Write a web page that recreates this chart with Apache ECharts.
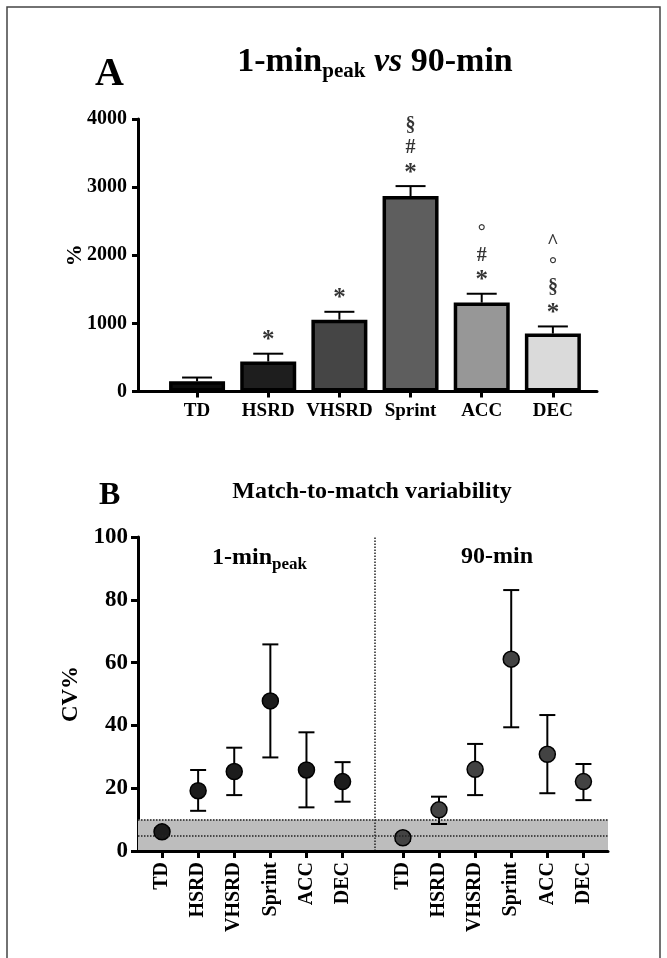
<!DOCTYPE html>
<html>
<head>
<meta charset="utf-8">
<script src="https://cdn.jsdelivr.net/npm/echarts@6.0.0/dist/echarts.min.js"></script>
<style>
  html, body { margin: 0; padding: 0; background: #fff; }
  #chart { width: 667px; height: 958px; }
</style>
</head>
<body>
<div id="chart"></div>
<script>
// panel A: 1-min peak as % of 90-min
const categories = ['TD', 'HSRD', 'VHSRD', 'Sprint', 'ACC', 'DEC'];
const ratioMean = [150, 440, 1055, 2870, 1305, 850];
const ratioErr = [55, 115, 115, 145, 130, 105];
const ratioMarks = [[], ['*'], ['*'], ['*', '#', '§'], ['*', '#', '°'], ['*', '§', '°', '^']]; // bottom to top
const ratioTicks = [0, 1000, 2000, 3000, 4000];

// panel B: CV% (mean, lower, upper)
const peakCV = [6.1, 19.2, 25.3, 47.8, 25.8, 22.1];
const peakLow = [5.0, 12.8, 17.8, 29.8, 13.9, 15.7];
const peakHigh = [7.2, 25.8, 32.9, 65.8, 37.8, 28.3];
const fullCV = [4.2, 13.1, 26.0, 61.1, 30.8, 22.1];
const fullLow = [3.2, 8.6, 17.8, 39.4, 18.4, 16.2];
const fullHigh = [5.2, 17.3, 34.1, 83.1, 43.3, 27.7];
const cvTicks = [0, 20, 40, 60, 80, 100];
const cvBand = [0, 10];
const cvRefLine = 5;

const FONT = '"Liberation Serif", "Times New Roman", serif';
const GROUP_OFFSET = 6.67;   // where the 90-min group starts on the B axis
const DIVIDER = 5.9;

const peakPos = categories.map((c, i) => i);
const fullPos = categories.map((c, i) => i + GROUP_OFFSET);
const allPos = peakPos.concat(fullPos);
const allLabels = categories.concat(categories);

function renderUpperError(params, api) {
    const x = api.value(0);
    const p0 = api.coord([x, api.value(1)]);
    const p1 = api.coord([x, api.value(2)]);
    const half = 15;
    const style = {stroke: '#000', lineWidth: 2};
    return {
        type: 'group',
        children: [
            {type: 'line', shape: {x1: p0[0], y1: p0[1], x2: p1[0], y2: p1[1]}, style: style},
            {type: 'line', shape: {x1: p1[0] - half, y1: p1[1], x2: p1[0] + half, y2: p1[1]}, style: style}
        ]
    };
}

function renderRangeError(params, api) {
    const x = api.value(0);
    const lo = api.coord([x, api.value(1)]);
    const hi = api.coord([x, api.value(2)]);
    const half = 8;
    const style = {stroke: '#000', lineWidth: 2};
    return {
        type: 'group',
        children: [
            {type: 'line', shape: {x1: lo[0], y1: lo[1], x2: hi[0], y2: hi[1]}, style: style},
            {type: 'line', shape: {x1: hi[0] - half, y1: hi[1], x2: hi[0] + half, y2: hi[1]}, style: style},
            {type: 'line', shape: {x1: lo[0] - half, y1: lo[1], x2: lo[0] + half, y2: lo[1]}, style: style}
        ]
    };
}

const barColors = ['#0d0d0d', '#1e1e1e', '#454545', '#5e5e5e', '#979797', '#dadada'];

const chart = echarts.init(document.getElementById('chart'));

const option = {
    backgroundColor: '#fff',
    animation: false,
    textStyle: {fontFamily: FONT},
    graphic: [
        {
            type: 'rect',
            shape: {x: 7, y: 7, width: 653, height: 1000},
            style: {fill: 'none', stroke: '#444', lineWidth: 1.5},
            silent: true
        },
        {
            type: 'text', x: 95, y: 55,
            style: {text: 'A', font: 'bold 40px ' + FONT, fill: '#000'}
        },
        {
            type: 'text', x: 375, y: 42,
            style: {
                text: '{m|1-min}{s|peak}{i| vs }{m|90-min}',
                align: 'center',
                fill: '#000',
                rich: {
                    m: {fontFamily: FONT, fontWeight: 'bold', fontSize: 34, lineHeight: 40},
                    s: {fontFamily: FONT, fontWeight: 'bold', fontSize: 21, lineHeight: 18, verticalAlign: 'bottom'},
                    i: {fontFamily: FONT, fontWeight: 'bold', fontStyle: 'italic', fontSize: 34, lineHeight: 40}
                }
            }
        },
        {
            type: 'text', x: 99, y: 480,
            style: {text: 'B', font: 'bold 32px ' + FONT, fill: '#000'}
        },
        {
            type: 'text', x: 372, y: 480,
            style: {text: 'Match-to-match variability', align: 'center', font: 'bold 24px ' + FONT, fill: '#000'}
        },
        {
            type: 'text', x: 212, y: 543,
            style: {
                text: '{m|1-min}{s|peak}',
                fill: '#000',
                rich: {
                    m: {fontFamily: FONT, fontWeight: 'bold', fontSize: 24, lineHeight: 30},
                    s: {fontFamily: FONT, fontWeight: 'bold', fontSize: 17, lineHeight: 13, verticalAlign: 'bottom'}
                }
            }
        },
        {
            type: 'text', x: 497, y: 545,
            style: {text: '90-min', align: 'center', font: 'bold 24px ' + FONT, fill: '#000'}
        }
    ],
    grid: [
        {left: 138, right: 70, top: 119, height: 272.5},
        {left: 138, right: 59, top: 537, bottom: 107}
    ],
    xAxis: [
        {
            gridIndex: 0,
            type: 'value',
            min: -0.83,
            max: 5.62,
            splitLine: {show: false},
            axisLine: {onZero: false, lineStyle: {color: '#000', width: 3}},
            axisTick: {show: true, length: 6, lineStyle: {color: '#000', width: 3}, customValues: peakPos},
            axisLabel: {
                customValues: peakPos,
                formatter: v => categories[Math.round(v)],
                color: '#000', fontFamily: FONT, fontWeight: 'bold', fontSize: 19, margin: 10
            }
        },
        {
            gridIndex: 1,
            type: 'value',
            min: -0.665,
            max: 12.35,
            z: 10,
            splitLine: {show: false},
            axisLine: {onZero: false, lineStyle: {color: '#000', width: 3}},
            axisTick: {show: true, length: 7, lineStyle: {color: '#000', width: 3}, customValues: allPos},
            axisLabel: {
                customValues: allPos,
                formatter: v => allLabels[allPos.findIndex(p => Math.abs(p - v) < 0.01)],
                rotate: 90,
                color: '#000', fontFamily: FONT, fontWeight: 'bold', fontSize: 20, margin: 11
            }
        }
    ],
    yAxis: [
        {
            gridIndex: 0,
            type: 'value',
            min: ratioTicks[0],
            max: ratioTicks[ratioTicks.length - 1],
            interval: 1000,
            name: '%',
            nameLocation: 'middle',
            nameRotate: 90,
            nameGap: 52,
            nameMoveOverlap: false,
            nameTextStyle: {color: '#000', fontFamily: FONT, fontWeight: 'bold', fontSize: 22},
            splitLine: {show: false},
            axisLine: {show: true, onZero: false, lineStyle: {color: '#000', width: 3}},
            axisTick: {show: true, length: 6, lineStyle: {color: '#000', width: 3}},
            axisLabel: {
                color: '#000', fontFamily: FONT, fontWeight: 'bold', fontSize: 20, margin: 11,
                formatter: v => String(v)
            }
        },
        {
            gridIndex: 1,
            type: 'value',
            min: cvTicks[0],
            max: cvTicks[cvTicks.length - 1],
            interval: 20,
            name: 'CV%',
            nameLocation: 'middle',
            nameRotate: 90,
            nameGap: 55,
            nameMoveOverlap: false,
            nameTextStyle: {color: '#000', fontFamily: FONT, fontWeight: 'bold', fontSize: 23},
            splitLine: {show: false},
            axisLine: {show: true, onZero: false, lineStyle: {color: '#000', width: 3}},
            axisTick: {show: true, length: 7, lineStyle: {color: '#000', width: 3}},
            axisLabel: {
                color: '#000', fontFamily: FONT, fontWeight: 'bold', fontSize: 23, margin: 10,
                formatter: v => String(v)
            }
        }
    ],
    series: [
        {
            name: 'ratio',
            type: 'bar',
            xAxisIndex: 0,
            yAxisIndex: 0,
            barWidth: 56,
            data: ratioMean.map((v, i) => ({
                value: [i, v],
                itemStyle: {color: barColors[i], borderColor: '#000', borderWidth: 3.5}
            }))
        },
        {
            name: 'ratioErr',
            type: 'custom',
            xAxisIndex: 0,
            yAxisIndex: 0,
            z: 3,
            renderItem: renderUpperError,
            encode: {x: 0, y: [1, 2]},
            data: ratioMean.map((v, i) => [i, v, v + ratioErr[i]])
        },
        {
            name: 'ratioMarks',
            type: 'scatter',
            xAxisIndex: 0,
            yAxisIndex: 0,
            symbolSize: 1,
            itemStyle: {color: 'rgba(0,0,0,0)'},
            label: {
                show: true,
                position: 'top',
                distance: 4,
                color: '#000',
                fontFamily: FONT,
                fontWeight: 'bold',
                fontSize: 20,
                lineHeight: 22.5,
                align: 'center',
                rich: {
                    st: {fontFamily: FONT, fontWeight: 'bold', fontSize: 25, lineHeight: 22.5, padding: [6, 0, 0, 0]}
                },
                formatter: p => ratioMarks[p.dataIndex].slice().reverse()
                    .map(s => s === '*' ? '{st|*}' : s).join('\n')
            },
            data: ratioMean.map((v, i) => [i, v + ratioErr[i]])
        },
        {
            name: 'band',
            type: 'scatter',
            xAxisIndex: 1,
            yAxisIndex: 1,
            z: 1,
            data: [],
            markArea: {
                silent: true,
                itemStyle: {color: '#bdbdbd'},
                data: [[{yAxis: cvBand[0]}, {yAxis: cvBand[1]}]]
            },
            markLine: {
                silent: true,
                symbol: 'none',
                label: {show: false},
                lineStyle: {color: '#222', type: 'dotted', width: 1.5},
                data: [{yAxis: cvBand[1]}, {yAxis: cvRefLine}, {xAxis: DIVIDER}]
            }
        },
        {
            name: 'peakErr',
            type: 'custom',
            xAxisIndex: 1,
            yAxisIndex: 1,
            z: 3,
            renderItem: renderRangeError,
            encode: {x: 0, y: [1, 2]},
            data: peakPos.map((x, i) => [x, peakLow[i], peakHigh[i]])
        },
        {
            name: 'fullErr',
            type: 'custom',
            xAxisIndex: 1,
            yAxisIndex: 1,
            z: 3,
            renderItem: renderRangeError,
            encode: {x: 0, y: [1, 2]},
            data: fullPos.map((x, i) => [x, fullLow[i], fullHigh[i]])
        },
        {
            name: '1-min peak',
            type: 'scatter',
            xAxisIndex: 1,
            yAxisIndex: 1,
            z: 4,
            symbolSize: 16,
            itemStyle: {color: '#1c1c1c', borderColor: '#000', borderWidth: 1.5, opacity: 1},
            data: peakPos.map((x, i) => [x, peakCV[i]])
        },
        {
            name: '90-min',
            type: 'scatter',
            xAxisIndex: 1,
            yAxisIndex: 1,
            z: 4,
            symbolSize: 16,
            itemStyle: {color: '#434343', borderColor: '#000', borderWidth: 1.5, opacity: 1},
            data: fullPos.map((x, i) => [x, fullCV[i]])
        }
    ]
};

chart.setOption(option);
</script>
</body>
</html>
